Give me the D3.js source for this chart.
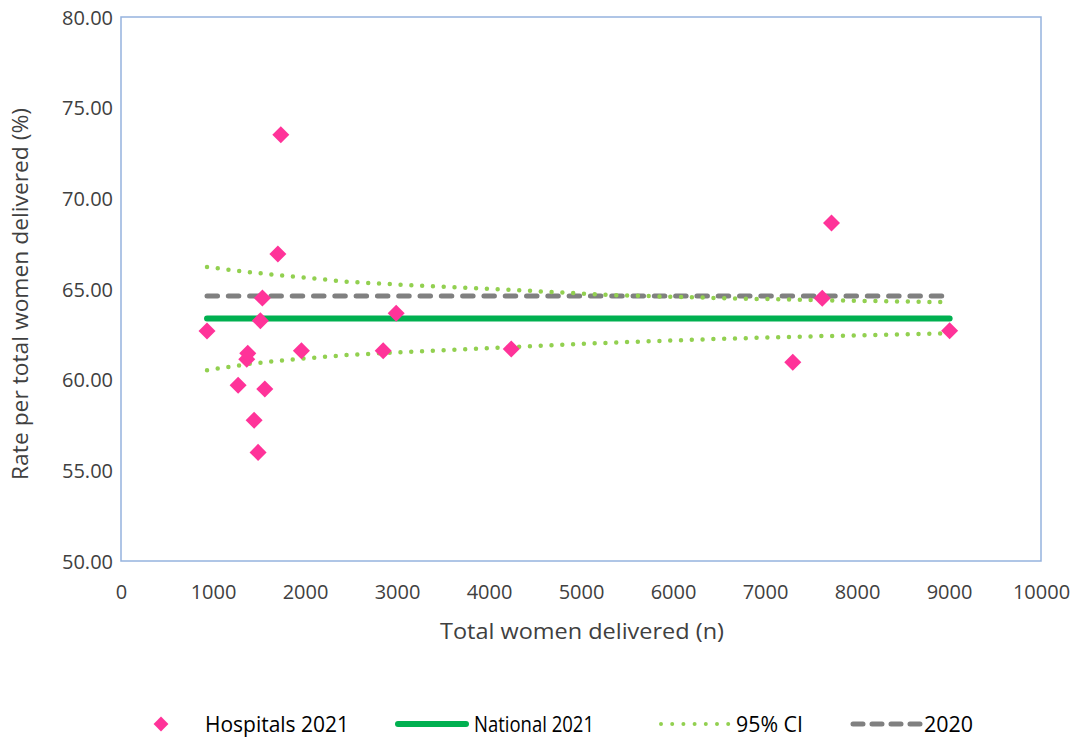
<!DOCTYPE html>
<html><head><meta charset="utf-8">
<script src="https://cdn.jsdelivr.net/npm/d3@7"></script>
<style>body{margin:0;background:#fff}svg{display:block}</style>
</head><body>
<svg id="c" width="1081" height="740"></svg>
<script>
// ---- data ----
const hospN    = [935, 1273, 1367, 1378, 1447, 1490, 1515, 1537, 1563, 1705, 1737, 1961, 2850, 2991, 4242, 7302, 7622, 7723, 9007];
const hospRate = [62.68, 59.69, 61.12, 61.45, 57.76, 55.99, 63.25, 64.50, 59.48, 66.93, 73.51, 61.60, 61.60, 63.66, 61.69, 60.96, 64.49, 68.64, 62.70];
const nationalN = [935, 9007];
const nationalRate = [63.38, 63.38];
const prevN = [935, 9007];
const prevRate = [64.61, 64.61];
const ciN     = [935, 1403, 1961, 2466, 2991, 4242, 5320, 6500, 7600, 9007];
const ciUpper = [66.21, 65.92, 65.64, 65.40, 65.25, 64.95, 64.67, 64.50, 64.38, 64.27];
const ciLower = [60.52, 60.88, 61.16, 61.36, 61.50, 61.80, 62.04, 62.25, 62.40, 62.56];
const xTicks = [0,1000,2000,3000,4000,5000,6000,7000,8000,9000,10000];
const yTicks = [50,55,60,65,70,75,80];
const legendLabels = ["Hospitals 2021","National 2021","95% CI","2020"];

const svg = d3.select("#c");
const L=121, R=1041, T=17, B=561;
const x = d3.scaleLinear().domain([0,10000]).range([L,R]);
const y = d3.scaleLinear().domain([50,80]).range([B,T]);
const txt = "#404040";
const font = "'Open Sans','Noto Sans',sans-serif";

// plot border
svg.append("rect").attr("x",L).attr("y",T).attr("width",R-L).attr("height",B-T)
  .attr("fill","none").attr("stroke","#95B3DE").attr("stroke-width",1.5);

// axes (labels only)
const yAx = svg.append("g").attr("transform",`translate(${L-8},0)`)
  .call(d3.axisLeft(y).tickValues(yTicks).tickFormat(d3.format(".2f")).tickSize(0));
yAx.select(".domain").remove();
yAx.selectAll("text").attr("fill",txt).style("font-family",font).style("font-size","20px").attr("dy","0.35em").attr("x",0);

const xAx = svg.append("g").attr("transform",`translate(0,${B+20})`)
  .call(d3.axisBottom(x).tickValues(xTicks).tickFormat(d3.format("d")).tickSize(0));
xAx.select(".domain").remove();
xAx.selectAll("text").attr("fill",txt).style("font-family",font).style("font-size","20px").attr("dy","0.35em").attr("y",11);

svg.append("text").attr("x",582).attr("y",639).attr("text-anchor","middle")
  .attr("textLength",284).attr("lengthAdjust","spacingAndGlyphs")
  .attr("fill",txt).style("font-family",font).style("font-size","22px").text("Total women delivered (n)");
svg.append("text").attr("transform",`translate(28,294) rotate(-90)`).attr("text-anchor","middle")
  .attr("textLength",372).attr("lengthAdjust","spacingAndGlyphs")
  .attr("fill",txt).style("font-family",font).style("font-size","21px").text("Rate per total women delivered (%)");

const line = d3.line().x(d=>x(d[0])).y(d=>y(d[1]));

// 2020 dashed
svg.append("path").datum(d3.zip(prevN,prevRate)).attr("d",line).attr("fill","none")
  .attr("stroke","#808080").attr("stroke-width",5).attr("stroke-linecap","round").attr("stroke-dasharray","10.5 10.8");
// CI dotted
[ciUpper,ciLower].forEach(arr=>{
  svg.append("path").datum(d3.zip(ciN,arr)).attr("d",line).attr("fill","none")
    .attr("stroke","#92D050").attr("stroke-width",4.5).attr("stroke-linecap","round").attr("stroke-dasharray","0 10.8");
});
// national
svg.append("path").datum(d3.zip(nationalN,nationalRate)).attr("d",line).attr("fill","none")
  .attr("stroke","#00B050").attr("stroke-width",6).attr("stroke-linecap","round");

// hospitals diamonds
const diamond = d3.symbol().type(d3.symbolSquare).size(145);
svg.append("g").selectAll("path").data(d3.zip(hospN,hospRate)).join("path")
  .attr("d",diamond).attr("transform",d=>`translate(${x(d[0])},${y(d[1])}) rotate(45)`)
  .attr("fill","#FF3399");

// legend
const ly = 724;
const lg = svg.append("g");
lg.append("path").attr("d",d3.symbol().type(d3.symbolSquare).size(110)).attr("transform",`translate(161,${ly}) rotate(45)`).attr("fill","#FF3399");
lg.append("line").attr("x1",398).attr("x2",466).attr("y1",ly).attr("y2",ly)
  .attr("stroke","#00B050").attr("stroke-width",6).attr("stroke-linecap","round");
lg.append("line").attr("x1",661).attr("x2",729).attr("y1",ly).attr("y2",ly)
  .attr("stroke","#92D050").attr("stroke-width",4).attr("stroke-linecap","round").attr("stroke-dasharray","0 11.2");
lg.append("line").attr("x1",853).attr("x2",921).attr("y1",ly).attr("y2",ly)
  .attr("stroke","#808080").attr("stroke-width",5).attr("stroke-linecap","round").attr("stroke-dasharray","10 9");
const lx = [205,474,736,924];
const lw = [144,120,67,49];
legendLabels.forEach((t,i)=>{
  lg.append("text").attr("x",lx[i]).attr("y",ly).attr("dy","0.35em").attr("fill","#000")
    .attr("textLength",lw[i]).attr("lengthAdjust","spacingAndGlyphs")
    .style("font-family",font).style("font-size","22px").text(t);
});
</script>
</body></html>
